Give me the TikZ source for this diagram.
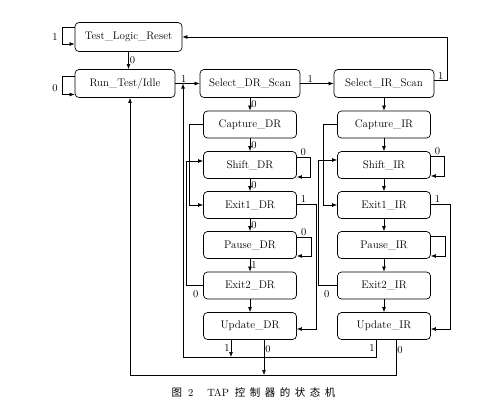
\documentclass[tikz,border=0pt]{standalone}
\usepackage{fontspec}
\newfontfamily\cjk{Noto Sans CJK SC}
\usetikzlibrary{arrows.meta,calc}

\begin{document}
\begin{tikzpicture}[x=1pt,y=-1pt,
    estado/.style={draw,rounded corners=4pt,line width=0.7pt,minimum width=93pt,minimum height=27pt,inner sep=0pt,font=\fontsize{11}{13}\selectfont},
    flecha/.style={line width=0.6pt,-{Latex[length=5pt,width=3.8pt]}},
    etq/.style={font=\fontsize{10.5}{12}\selectfont,inner sep=1pt}]
    \useasboundingbox (0,0) rectangle (494,410);

    % Estados principales
    \node[estado,minimum width=107pt,minimum height=29pt] (tlr) at (128.5,37) {Test\_Logic\_Reset};
    \node[estado,minimum width=100pt,minimum height=28pt] (run) at (125,83.5) {Run\_Test/Idle};
    \node[estado,minimum width=100pt,minimum height=28pt] (seldr) at (250,83.5) {Select\_DR\_Scan};
    \node[estado,minimum width=100pt,minimum height=28pt] (selir) at (384,83.5) {Select\_IR\_Scan};

    % Columna DR
    \node[estado] (capdr) at (250,124.5) {Capture\_DR};
    \node[estado] (shiftdr) at (250,165) {Shift\_DR};
    \node[estado] (exit1dr) at (250,205) {Exit1\_DR};
    \node[estado] (pausedr) at (250,245) {Pause\_DR};
    \node[estado] (exit2dr) at (250,285.5) {Exit2\_DR};
    \node[estado] (upddr) at (250,326) {Update\_DR};

    % Columna IR
    \node[estado] (capir) at (384,124.5) {Capture\_IR};
    \node[estado] (shiftir) at (384,165) {Shift\_IR};
    \node[estado] (exit1ir) at (384,205) {Exit1\_IR};
    \node[estado] (pauseir) at (384,245) {Pause\_IR};
    \node[estado] (exit2ir) at (384,285.5) {Exit2\_IR};
    \node[estado] (updir) at (384,326) {Update\_IR};

    % Lineas de retorno inferiores
    \coordinate (bus1) at (183,357);
    \coordinate (bus0) at (130,375);

    % Lazos propios
    \draw[flecha] ($(tlr.west)+(0,-10)$) -- ++(-12,0) |- ($(tlr.west)+(0,7)$);
    \node[etq] at (55,37) {1};
    \draw[flecha] ($(run.west)+(0,-7)$) -- ++(-12,0) |- ($(run.west)+(0,11)$);
    \node[etq] at (55,88) {0};
    \draw[flecha] ($(shiftdr.east)+(0,-8)$) -- node[etq,above]{0} ++(13,0) |- ($(shiftdr.east)+(0,12)$);
    \draw[flecha] ($(pausedr.east)+(0,-8)$) -- node[etq,above]{0} ++(14,0) |- ($(pausedr.east)+(0,11)$);
    \draw[flecha] ($(shiftir.east)+(0,-9)$) -- node[etq,above]{0} ++(13.5,0) |- ($(shiftir.east)+(0,11)$);
    \draw[flecha] ($(pauseir.east)+(0,-9)$) -- ++(14.5,0) |- ($(pauseir.east)+(0,11)$);

    % Transiciones superiores
    \draw[flecha] (tlr.south) -- node[etq,right]{0} (tlr.south |- run.north);
    \draw[flecha] (run.east) -- node[etq,above,pos=0.35]{1} (seldr.west);
    \draw[flecha] (seldr.east) -- node[etq,above,pos=0.3]{1} (selir.west);
    \draw[flecha] ($(selir.east)+(0,-3)$) -- node[etq,above]{1} ++(13,0) |- (tlr.east);

    % Transiciones de la columna DR
    \draw[flecha] (seldr.south) -- node[etq,right]{0} (capdr.north);
    \draw[flecha] (capdr.south) -- node[etq,right]{0} (shiftdr.north);
    \draw[flecha] (shiftdr.south) -- node[etq,right]{0} (exit1dr.north);
    \draw[flecha] (exit1dr.south) -- node[etq,right]{0} (pausedr.north);
    \draw[flecha] (pausedr.south) -- node[etq,right]{1} (exit2dr.north);
    \draw[flecha] (exit2dr.south) -- (upddr.north);
    \draw[flecha] (capdr.west) -- ++(-14,0) |- (exit1dr.west);
    \draw[flecha] (exit2dr.west) -- node[etq,below=4pt,pos=0.45]{0} ++(-16.5,0) |- ($(shiftdr.west)+(0,-4)$);
    \draw[flecha] ($(exit1dr.east)+(0,-1)$) -- node[etq,above,pos=0.35]{1} ++(19,0) |- ($(upddr.east)+(0,3)$);

    % Transiciones de la columna IR
    \draw[flecha] (selir.south) -- (capir.north);
    \draw[flecha] (capir.south) -- (shiftir.north);
    \draw[flecha] (shiftir.south) -- (exit1ir.north);
    \draw[flecha] (exit1ir.south) -- (pauseir.north);
    \draw[flecha] (pauseir.south) -- (exit2ir.north);
    \draw[flecha] (exit2ir.south) -- (updir.north);
    \draw[flecha] (capir.west) -- ++(-14,0) |- (exit1ir.west);
    \draw[flecha] (exit2ir.west) -- node[etq,below=4pt,pos=0.55]{0} ++(-19,0) |- ($(shiftir.west)+(0,-5)$);
    \draw[flecha] ($(exit1ir.east)+(0,-1)$) -- node[etq,above,pos=0.35]{1} ++(19,0) |- ($(updir.east)+(0,3)$);

    % Salidas de Update
    \draw[flecha] ($(upddr.south)+(-19,0)$) coordinate (u1) -- node[etq,left]{1} (u1 |- bus1);
    \draw[flecha] ($(upddr.south)+(14,0)$) coordinate (u0) -- node[etq,right,pos=0.27]{0} (u0 |- bus0);
    \draw[flecha] ($(updir.south)+(-8,0)$) |- node[etq,left,pos=0.25]{1} (bus1) -- (run.east -| bus1);
    \draw[flecha] ($(updir.south)+(12,0)$) |- node[etq,right,pos=0.15]{0} (bus0) -- (run.south -| bus0);

    % Titulo
    \node[font=\fontsize{10.5}{12}\selectfont,inner sep=0pt] (titulo) at (253.5,392)
      {{\cjk 图}\hspace{6pt}2\hspace{14pt}TAP\hspace{6pt}{\cjk 控\hspace{4.5pt}制\hspace{4.5pt}器\hspace{4.5pt}的\hspace{4.5pt}状\hspace{4.5pt}态\hspace{4.5pt}机}};
\end{tikzpicture}
\end{document}
